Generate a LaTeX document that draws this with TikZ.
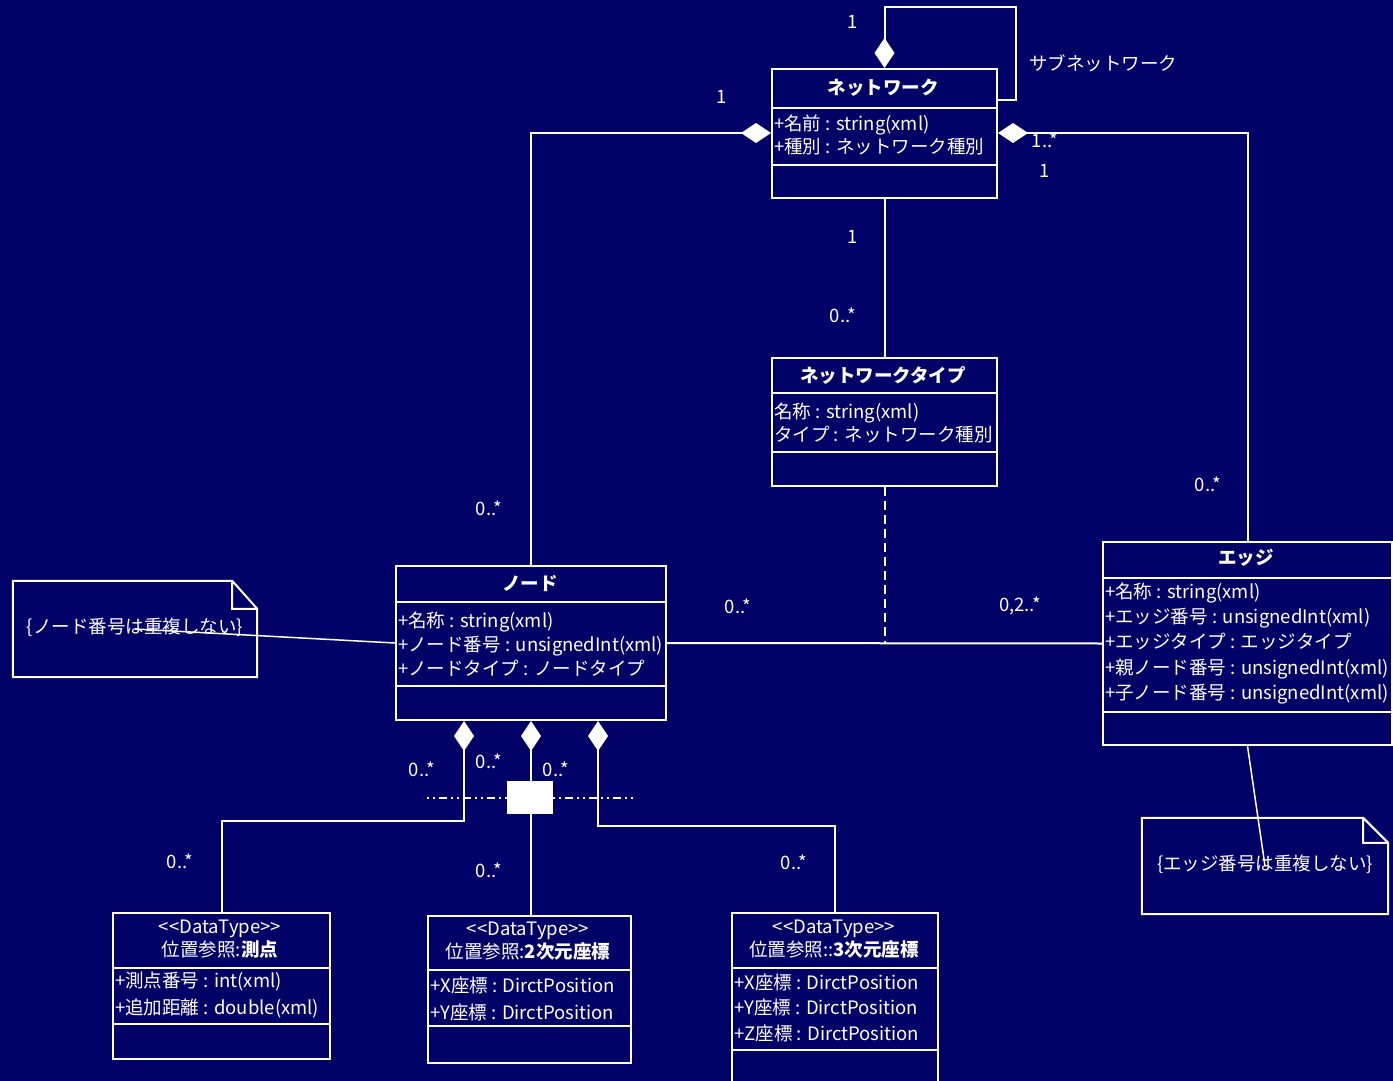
\documentclass[tikz,border=0pt]{standalone}
\usepackage{fontspec}
\setmainfont{Noto Sans CJK JP}
\usetikzlibrary{arrows.meta, calc}
\definecolor{navy}{HTML}{000066}

\tikzset{
  umlclass/.style={rectangle, draw=white, line width=2pt, inner sep=0pt, anchor=north west},
  ctitle/.style={font=\fontsize{18.5}{23}\selectfont\bfseries},
  attrs/.style={anchor=west, align=left, inner sep=0pt},
  sep/.style={line width=2.5pt},
  assoc/.style={line width=2pt},
  compo/.style={arrows={Diamond[length=30pt,width=20pt]-}},
  notebox/.style={rectangle, inner sep=0pt},
  mult/.style={inner sep=1pt},
}

\begin{document}
\begin{tikzpicture}[x=1pt, y=-1pt, white, font=\fontsize{18.5}{23}\selectfont]
  \useasboundingbox (0,0) rectangle (1393,1081);
  \clip (0,0) rectangle (1393,1081);
  \fill[navy] (0,0) rectangle (1393,1081);

  % network
  \node[umlclass, minimum width=225pt, minimum height=129pt] (net) at (771,68) {};
  \draw[sep] ([yshift=-40pt]net.north west) -- ([yshift=-40pt]net.north east)
             ([yshift=-97pt]net.north west) -- ([yshift=-97pt]net.north east);
  \node[ctitle] (netT) at (883,88) {ネットワーク};
  \node[attrs] (netA) at (774,134.5) {+名前 : string(xml)\\+種別 : ネットワーク種別};

  % network type
  \node[umlclass, minimum width=225pt, minimum height=128pt] (ntype) at (771,357) {};
  \draw[sep] ([yshift=-36pt]ntype.north west) -- ([yshift=-36pt]ntype.north east)
             ([yshift=-95pt]ntype.north west) -- ([yshift=-95pt]ntype.north east);
  \node[ctitle] (ntypeT) at (883,375) {ネットワークタイプ};
  \node[attrs] (ntypeA) at (774,423) {名称 : string(xml)\\タイプ : ネットワーク種別};

  % node
  \node[umlclass, minimum width=270pt, minimum height=154pt] (node) at (395,565) {};
  \draw[sep] ([yshift=-37pt]node.north west) -- ([yshift=-37pt]node.north east)
             ([yshift=-121pt]node.north west) -- ([yshift=-121pt]node.north east);
  \node[ctitle] (nodeT) at (530,584) {ノード};
  \node[attrs, font=\fontsize{18.5}{24}\selectfont] (nodeA) at (398,644)
       {+名称 : string(xml)\\+ノード番号 : unsignedInt(xml)\\+ノードタイプ : ノードタイプ};

  % edge
  \node[umlclass, minimum width=289pt, minimum height=203pt] (edge) at (1102,541) {};
  \draw[sep] ([yshift=-37pt]edge.north west) -- ([yshift=-37pt]edge.north east)
             ([yshift=-171pt]edge.north west) -- ([yshift=-171pt]edge.north east);
  \node[ctitle] (edgeT) at (1246,558) {エッジ};
  \node[attrs, font=\fontsize{18.5}{25.2}\selectfont] (edgeA) at (1105,643.5)
       {+名称 : string(xml)\\+エッジ番号 : unsignedInt(xml)\\+エッジタイプ : エッジタイプ\\
        +親ノード番号 : unsignedInt(xml)\\+子ノード番号 : unsignedInt(xml)};

  % data types
  \node[umlclass, minimum width=217pt, minimum height=146pt] (dt1) at (112,912) {};
  \draw[sep] ([yshift=-56pt]dt1.north west) -- ([yshift=-56pt]dt1.north east)
             ([yshift=-112pt]dt1.north west) -- ([yshift=-112pt]dt1.north east);
  \node[align=center, inner sep=0pt] (dt1T) at (220,939.5) {<{}<DataType>{}>\\位置参照:\textbf{測点}};
  \node[attrs, font=\fontsize{18.5}{27}\selectfont] (dt1A) at (115,995.5)
       {+測点番号 : int(xml)\\+追加距離 : double(xml)};

  \node[umlclass, minimum width=203pt, minimum height=147pt] (dt2) at (427,915) {};
  \draw[sep] ([yshift=-55pt]dt2.north west) -- ([yshift=-55pt]dt2.north east)
             ([yshift=-111pt]dt2.north west) -- ([yshift=-111pt]dt2.north east);
  \node[align=center, inner sep=0pt] (dt2T) at (528,941.5) {<{}<DataType>{}>\\位置参照:\textbf{2次元座標}};
  \node[attrs, font=\fontsize{18.5}{27}\selectfont] (dt2A) at (430,998.5)
       {+X座標 : DirctPosition\\+Y座標 : DirctPosition};

  \node[umlclass, minimum width=206pt, minimum height=190pt] (dt3) at (731,912) {};
  \draw[sep] ([yshift=-56pt]dt3.north west) -- ([yshift=-56pt]dt3.north east)
             ([yshift=-138pt]dt3.north west) -- ([yshift=-138pt]dt3.north east);
  \node[align=center, inner sep=0pt] (dt3T) at (834,939.5) {<{}<DataType>{}>\\位置参照::\textbf{3次元座標}};
  \node[attrs, font=\fontsize{18.5}{25.5}\selectfont] (dt3A) at (734,1007.5)
       {+X座標 : DirctPosition\\+Y座標 : DirctPosition\\+Z座標 : DirctPosition};

  % notes
  \node[notebox, minimum width=244pt, minimum height=96pt] (nnote) at (135,629) {};
  \draw[line width=2pt] (nnote.north west) -- ([xshift=-25pt]nnote.north east)
        -- ([yshift=-28pt]nnote.north east) -- (nnote.south east) -- (nnote.south west) -- cycle
        ([xshift=-25pt]nnote.north east) |- ([yshift=-28pt]nnote.north east);
  \node (nnoteT) at (135,627) {\{ノード番号は重複しない\}};

  \node[notebox, minimum width=246pt, minimum height=96pt] (enote) at (1265,866) {};
  \draw[line width=2pt] (enote.north west) -- ([xshift=-25pt]enote.north east)
        -- ([yshift=-25pt]enote.north east) -- (enote.south east) -- (enote.south west) -- cycle
        ([xshift=-25pt]enote.north east) |- ([yshift=-25pt]enote.north east);
  \node (enoteT) at (1265,864) {\{エッジ番号は重複しない\}};

  % associations
  \draw[assoc, compo] (net.north) -- (net.north |- 0,7) -- (1016,7) -- (1016,100) -- (net.east |- 0,100);
  \draw[assoc, compo] (net.west |- 0,133) -| (node.north);
  \draw[assoc, compo] (net.east |- 0,133) -| (edge.north);
  \draw[assoc] (net.south) -- (ntype.north);
  \draw[assoc] (node.east) -- (edge.west);
  \draw[assoc, dash pattern=on 9pt off 5pt] (ntype.south) -- (ntype.south |- node.east);
  \draw[line width=1.5pt] (nnote.center) -- (node.west);
  \draw[line width=1.5pt] (edge.south) -- (enote.center);

  % compositions of node
  \node[fill=white, inner sep=0pt, minimum width=46pt, minimum height=33pt] (joint) at (530,797.5) {};
  \draw[line width=2pt, dash pattern=on 2pt off 4pt on 2pt off 4pt on 8pt off 4pt]
        (joint.west) -- ++(-84,0) (joint.east) -- ++(81,0);
  \draw[assoc, compo] ([xshift=-67pt]node.south) |- (dt1.north |- 0,821) -- (dt1.north);
  \draw[assoc, compo] (node.south) -- (node.south |- dt2.north);
  \draw[assoc, compo] ([xshift=67pt]node.south) |- (dt3.north |- 0,826) -- (dt3.north);

  % multiplicities
  \node[mult] (m1) at (853,22) {1};
  \node[mult] (m2) at (1103,63) {サブネットワーク};
  \node[mult] (m3) at (722,97) {1};
  \node[mult] (m4) at (1045,140) {1..*};
  \node[mult] (m5) at (1045,171) {1};
  \node[mult] (m6) at (853,237) {1};
  \node[mult] (m7) at (843,315) {0..*};
  \node[mult] (m8) at (489,508) {0..*};
  \node[mult] (m9) at (1208,484) {0..*};
  \node[mult] (m10) at (738,606) {0..*};
  \node[mult] (m11) at (1020,606) {0,2..*};
  \node[mult] (m12) at (422,769) {0..*};
  \node[mult] (m13) at (489,761) {0..*};
  \node[mult] (m14) at (556,769) {0..*};
  \node[mult] (m15) at (180,861) {0..*};
  \node[mult] (m16) at (489,870) {0..*};
  \node[mult] (m17) at (794,862) {0..*};
\end{tikzpicture}
\end{document}
